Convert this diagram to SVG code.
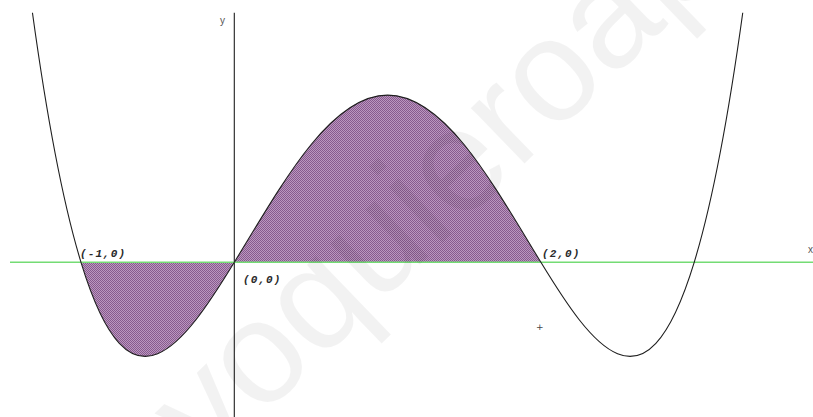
<svg xmlns="http://www.w3.org/2000/svg" width="813" height="417" viewBox="0 0 813 417">
  <style>
    .curve { fill: none; stroke: #1e1e1e; stroke-width: 1.1; }
    .area { fill: url(#hatch); stroke: none; }
    .lbl { font-family: "Liberation Mono", "DejaVu Sans Mono", monospace; font-style: italic; font-weight: bold; font-size: 11px; fill: #2a2a2a; letter-spacing: 1.1px; }
    .axlbl { font-family: "Liberation Sans", "DejaVu Sans", sans-serif; font-size: 10px; fill: #555; }
    .wm { font-family: "Liberation Sans", Arial, sans-serif; font-size: 146px; fill: #000; fill-opacity: 0.05; }
  </style>
  <defs>
    <pattern id="hatch" patternUnits="userSpaceOnUse" x="0" y="0" width="2" height="2">
      <rect width="2" height="2" fill="#bb97bf"/>
      <rect x="0" y="0" width="1" height="1" fill="#875a8e"/>
      <rect x="1" y="1" width="1" height="1" fill="#875a8e"/>
    </pattern>
  </defs>
  <rect width="813" height="417" fill="#ffffff"/>

  <g id="shaded-regions">
    <path class="area" d="M81,262.3 C106.55,345.9 132.1,364.19 157.65,353.74 C183.2,343.29 208.75,304.1 234.3,262.3 Z"/>
    <path class="area" d="M234.3,262.3 C259.85,220.5 285.4,176.09 310.95,144.74 C336.5,113.39 362.05,95.1 387.6,95.1 C413.15,95.1 438.7,113.39 464.25,144.74 C489.8,176.09 515.35,220.5 540.9,262.3 Z"/>
  </g>

  <g id="axes">
    <line id="y-axis" x1="234.3" y1="12.7" x2="234.3" y2="417" stroke="#1e1e1e" stroke-width="1.1"/>
    <line id="x-axis" x1="10" y1="262.3" x2="813" y2="262.3" stroke="#74dc74" stroke-width="1.6"/>
    <text class="axlbl" x="220" y="24">y</text>
    <text class="axlbl" x="808" y="253">x</text>
  </g>

  <g id="function-curve">
    <path class="curve" d="M32.45,12.75 C48.63,129.97 64.82,209.36 81,262.3 C106.55,345.9 132.1,364.19 157.65,353.74 C183.2,343.29 208.75,304.1 234.3,262.3 C259.85,220.5 285.4,176.09 310.95,144.74 C336.5,113.39 362.05,95.1 387.6,95.1 C413.15,95.1 438.7,113.39 464.25,144.74 C489.8,176.09 515.35,220.5 540.9,262.3 C566.45,304.1 592,343.29 617.55,353.74 C643.1,364.19 668.65,345.9 694.2,262.3 C710.38,209.36 726.57,129.97 742.75,12.75"/>
  </g>

  <g id="labels">
    <text id="p-1" class="lbl" x="80" y="257">(-1,0)</text>
    <text id="p0" class="lbl" x="243" y="283">(0,0)</text>
    <text id="p2" class="lbl" x="542" y="257">(2,0)</text>
    <text id="cursor" x="536" y="330" font-family="'DejaVu Sans', sans-serif" font-size="9" fill="#444">+</text>
  </g>

  <g id="watermark">
    <text class="wm" x="207.7" y="469.3" transform="rotate(-44 207.7 469.3)">yoquieroaprobar</text>
  </g>
</svg>
